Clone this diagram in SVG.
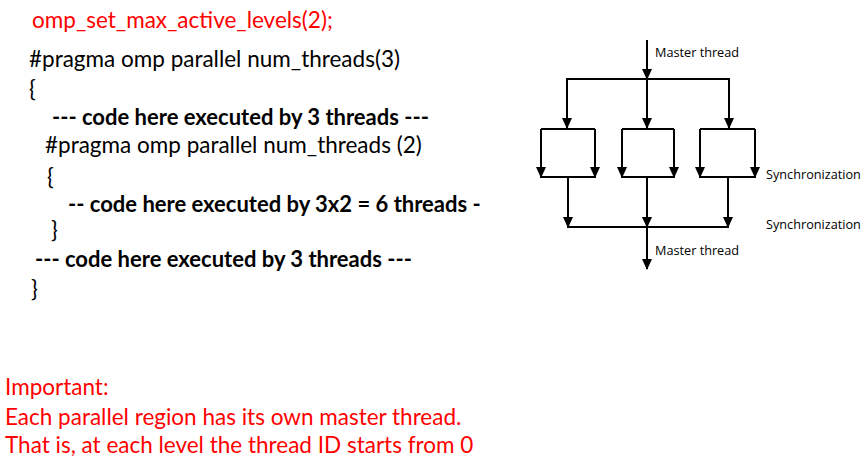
<svg xmlns="http://www.w3.org/2000/svg" width="866" height="458" viewBox="0 0 866 458">
<style>
.code{font-family:Lato,"Liberation Sans",sans-serif;font-size:22.5px;fill:#000}
.b{font-weight:bold;font-size:22px}
.red{fill:#ff0000}
.lbl{font-family:"Open Sans","Liberation Sans",sans-serif;font-size:12.7px;fill:#000}
.ln{stroke:#000;stroke-width:2;fill:none}
.ar{stroke:#000;stroke-width:2;fill:none;marker-end:url(#ah)}
</style>
<defs>
<marker id="ah" markerUnits="userSpaceOnUse" markerWidth="11" markerHeight="10" viewBox="0 0 11 10" refX="10" refY="5" orient="auto">
<path d="M0,0 L11,5 L0,10 Z" fill="#000"/>
</marker>
</defs>
<rect width="866" height="458" fill="#fff"/>
<g id="code">
<text class="code red" x="32" y="28">omp_set_max_active_levels(2);</text>
<text class="code" x="29" y="67">#pragma omp parallel num_threads(3)</text>
<text class="code" x="29" y="97">{</text>
<text class="code b" x="52" y="125">--- code here executed by 3 threads ---</text>
<text class="code" x="45" y="153">#pragma omp parallel num_threads (2)</text>
<text class="code" x="47" y="185">{</text>
<text class="code b" x="68" y="212">-- code here executed by 3x2 = 6 threads -</text>
<text class="code" x="51" y="238">}</text>
<text class="code b" x="35" y="267">--- code here executed by 3 threads ---</text>
<text class="code" x="31" y="297">}</text>
</g>
<g id="note">
<text class="code red" x="5" y="395">Important:</text>
<text class="code red" x="5" y="425">Each parallel region has its own master thread.</text>
<text class="code red" x="5" y="453">That is, at each level the thread ID starts from 0</text>
</g>
<g id="connectors">
<line class="ar" x1="647" y1="40" x2="647" y2="79"/>
<line class="ln" x1="566" y1="79" x2="730" y2="79"/>
<line class="ar" x1="567" y1="79" x2="567" y2="128"/>
<line class="ar" x1="647" y1="79" x2="647" y2="128"/>
<line class="ar" x1="729" y1="79" x2="729" y2="128"/>
<path class="ln" d="M541,129 H595 M622,129 H674 M700,129 H755"/>
<line class="ar" x1="541" y1="129" x2="541" y2="177"/>
<line class="ar" x1="595" y1="129" x2="595" y2="177"/>
<line class="ar" x1="622" y1="129" x2="622" y2="177"/>
<line class="ar" x1="674" y1="129" x2="674" y2="177"/>
<line class="ar" x1="700" y1="129" x2="700" y2="177"/>
<line class="ar" x1="755" y1="129" x2="755" y2="177"/>
<path class="ln" d="M540,177 H596 M621,177 H675 M699,177 H756"/>
<line class="ar" x1="568" y1="177" x2="568" y2="227"/>
<line class="ar" x1="647" y1="177" x2="647" y2="227"/>
<line class="ar" x1="728" y1="177" x2="728" y2="227"/>
<line class="ln" x1="567" y1="227" x2="729" y2="227"/>
<line class="ar" x1="647" y1="227" x2="647" y2="269"/>
</g>
<g id="labels">
<text class="lbl" x="655" y="57">Master thread</text>
<text class="lbl" x="766" y="179">Synchronization</text>
<text class="lbl" x="766" y="229">Synchronization</text>
<text class="lbl" x="655" y="255">Master thread</text>
</g>
</svg>
